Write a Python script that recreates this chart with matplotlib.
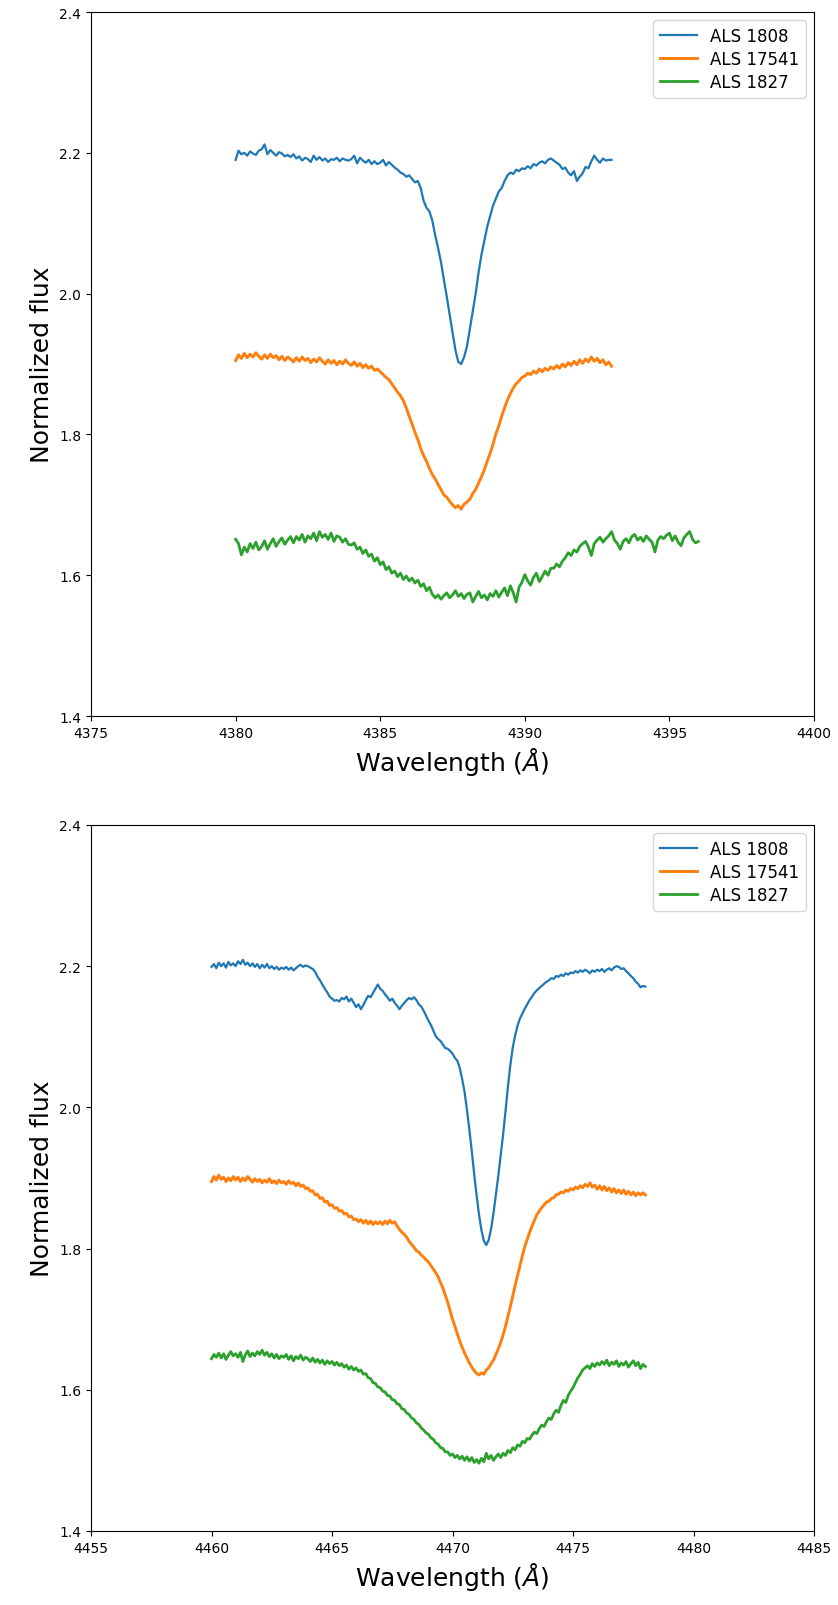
import numpy as np
import matplotlib
matplotlib.use('Agg')
import matplotlib.pyplot as plt

names = ['ALS 1808', 'ALS 17541', 'ALS 1827']

# --- first window, 4380-4396 A (0.1 A sampling, one row per Angstrom) ---
top_blue = [
    2.190, 2.203, 2.198, 2.200, 2.196, 2.202, 2.199, 2.197, 2.203, 2.205,
    2.212, 2.198, 2.204, 2.200, 2.196, 2.201, 2.199, 2.195, 2.197, 2.194,
    2.198, 2.192, 2.195, 2.189, 2.193, 2.191, 2.187, 2.196, 2.190, 2.194,
    2.189, 2.192, 2.187, 2.191, 2.190, 2.193, 2.188, 2.192, 2.190, 2.189,
    2.191, 2.196, 2.185, 2.193, 2.189, 2.186, 2.190, 2.184, 2.188, 2.184,
    2.186, 2.190, 2.182, 2.187, 2.183, 2.179, 2.176, 2.172, 2.170, 2.166,
    2.168, 2.163, 2.158, 2.160, 2.150, 2.132, 2.122, 2.117, 2.104, 2.083,
    2.065, 2.045, 2.020, 1.996, 1.970, 1.945, 1.920, 1.903, 1.900, 1.910,
    1.925, 1.950, 1.975, 2.000, 2.030, 2.055, 2.075, 2.095, 2.110, 2.125,
    2.135, 2.145, 2.150, 2.160, 2.168, 2.172, 2.170, 2.176, 2.174, 2.178,
    2.177, 2.181, 2.178, 2.184, 2.182, 2.186, 2.188, 2.185, 2.190, 2.192,
    2.189, 2.186, 2.183, 2.177, 2.179, 2.172, 2.168, 2.174, 2.160, 2.166,
    2.171, 2.180, 2.178, 2.188, 2.196, 2.190, 2.186, 2.192, 2.189, 2.190,
    2.190]
top_orange = [
    1.905, 1.913, 1.908, 1.915, 1.909, 1.914, 1.910, 1.916, 1.911, 1.907,
    1.913, 1.908, 1.914, 1.909, 1.912, 1.906, 1.911, 1.905, 1.910, 1.907,
    1.903, 1.909, 1.904, 1.910, 1.905, 1.908, 1.902, 1.907, 1.903, 1.909,
    1.904, 1.900, 1.906, 1.901, 1.905, 1.899, 1.904, 1.900, 1.906, 1.901,
    1.898, 1.903, 1.897, 1.901, 1.895, 1.899, 1.894, 1.897, 1.891, 1.893,
    1.889, 1.885, 1.881, 1.878, 1.872, 1.866, 1.860, 1.855, 1.848, 1.838,
    1.826, 1.815, 1.803, 1.793, 1.780, 1.770, 1.762, 1.752, 1.743, 1.737,
    1.729, 1.722, 1.714, 1.711, 1.705, 1.700, 1.696, 1.699, 1.694, 1.701,
    1.704, 1.708, 1.716, 1.722, 1.731, 1.740, 1.750, 1.762, 1.773, 1.786,
    1.801, 1.812, 1.826, 1.838, 1.849, 1.858, 1.866, 1.872, 1.876, 1.881,
    1.883, 1.887, 1.885, 1.890, 1.887, 1.893, 1.889, 1.894, 1.891, 1.896,
    1.893, 1.898, 1.894, 1.900, 1.896, 1.902, 1.898, 1.904, 1.899, 1.906,
    1.901, 1.907, 1.903, 1.910, 1.904, 1.908, 1.902, 1.906, 1.899, 1.903,
    1.897]
top_green = [
    1.651, 1.645, 1.629, 1.640, 1.633, 1.645, 1.638, 1.647, 1.636, 1.641,
    1.649, 1.637, 1.645, 1.652, 1.641, 1.648, 1.653, 1.644, 1.650, 1.655,
    1.646, 1.655, 1.650, 1.658, 1.647, 1.656, 1.652, 1.660, 1.649, 1.662,
    1.654, 1.658, 1.651, 1.660, 1.648, 1.656, 1.654, 1.647, 1.652, 1.644,
    1.643, 1.646, 1.637, 1.640, 1.631, 1.636, 1.627, 1.630, 1.620, 1.625,
    1.615, 1.619, 1.608, 1.612, 1.603, 1.606, 1.598, 1.603, 1.594, 1.599,
    1.592, 1.596, 1.589, 1.593, 1.584, 1.588, 1.578, 1.583, 1.573, 1.568,
    1.572, 1.566, 1.571, 1.575, 1.568, 1.572, 1.578, 1.570, 1.574, 1.567,
    1.573, 1.575, 1.562, 1.570, 1.577, 1.568, 1.572, 1.565, 1.574, 1.570,
    1.578, 1.569, 1.576, 1.582, 1.571, 1.585, 1.575, 1.562, 1.583, 1.590,
    1.601, 1.592, 1.586, 1.597, 1.603, 1.591, 1.598, 1.606, 1.600, 1.610,
    1.610, 1.616, 1.612, 1.620, 1.625, 1.632, 1.628, 1.636, 1.633, 1.641,
    1.645, 1.648, 1.640, 1.628, 1.645, 1.650, 1.654, 1.647, 1.652, 1.656,
    1.662, 1.650, 1.645, 1.637, 1.648, 1.652, 1.646, 1.655, 1.658, 1.650,
    1.654, 1.648, 1.656, 1.651, 1.647, 1.633, 1.650, 1.655, 1.652, 1.657,
    1.660, 1.649, 1.656, 1.647, 1.642, 1.653, 1.658, 1.662, 1.651, 1.646,
    1.648]

# --- second window, 4460-4478 A ---
bot_blue = [
    2.199, 2.203, 2.197, 2.205, 2.200, 2.204, 2.198, 2.206, 2.201, 2.204,
    2.200, 2.207, 2.203, 2.209, 2.202, 2.205, 2.200, 2.204, 2.199, 2.203,
    2.197, 2.202, 2.198, 2.203, 2.197, 2.200, 2.196, 2.199, 2.195, 2.198,
    2.196, 2.199, 2.195, 2.198, 2.194, 2.197, 2.200, 2.202, 2.199, 2.201,
    2.200, 2.198, 2.196, 2.192, 2.185, 2.180, 2.174, 2.168, 2.163, 2.157,
    2.154, 2.151, 2.152, 2.150, 2.155, 2.153, 2.157, 2.150, 2.154, 2.148,
    2.142, 2.146, 2.139, 2.145, 2.152, 2.158, 2.156, 2.162, 2.168, 2.174,
    2.168, 2.165, 2.160, 2.156, 2.151, 2.154, 2.148, 2.144, 2.139, 2.144,
    2.148, 2.152, 2.155, 2.153, 2.156, 2.152, 2.146, 2.143, 2.137, 2.130,
    2.123, 2.117, 2.109, 2.101, 2.097, 2.094, 2.089, 2.084, 2.083, 2.080,
    2.076, 2.070, 2.066, 2.056, 2.040, 2.022, 1.996, 1.968, 1.938, 1.905,
    1.875, 1.848, 1.826, 1.811, 1.805, 1.812, 1.828, 1.850, 1.876, 1.903,
    1.932, 1.962, 1.995, 2.030, 2.060, 2.085, 2.102, 2.116, 2.126, 2.133,
    2.140, 2.146, 2.152, 2.157, 2.162, 2.166, 2.169, 2.172, 2.175, 2.178,
    2.180, 2.183, 2.182, 2.186, 2.185, 2.188, 2.186, 2.190, 2.188, 2.191,
    2.190, 2.193, 2.191, 2.194, 2.192, 2.195, 2.193, 2.190, 2.194, 2.192,
    2.195, 2.193, 2.196, 2.192, 2.195, 2.197, 2.194, 2.198, 2.200, 2.199,
    2.196, 2.197, 2.193, 2.190, 2.186, 2.183, 2.178, 2.175, 2.170, 2.172,
    2.171]
bot_orange = [
    1.895, 1.902, 1.897, 1.904, 1.898, 1.901, 1.895, 1.900, 1.896, 1.902,
    1.897, 1.901, 1.895, 1.900, 1.896, 1.902, 1.898, 1.894, 1.899, 1.895,
    1.898, 1.893, 1.897, 1.894, 1.899, 1.893, 1.896, 1.892, 1.897, 1.893,
    1.895, 1.891, 1.896, 1.892, 1.894, 1.889, 1.893, 1.888, 1.890, 1.885,
    1.886, 1.881, 1.882, 1.876, 1.877, 1.871, 1.872, 1.866, 1.867, 1.861,
    1.862, 1.857, 1.858, 1.853, 1.854, 1.849, 1.850, 1.845, 1.846, 1.841,
    1.842, 1.838, 1.841, 1.836, 1.840, 1.835, 1.839, 1.834, 1.838, 1.835,
    1.838, 1.834, 1.839, 1.835, 1.840, 1.836, 1.838, 1.832, 1.827, 1.823,
    1.820, 1.816, 1.810, 1.806, 1.802, 1.797, 1.795, 1.791, 1.788, 1.784,
    1.781, 1.776, 1.771, 1.766, 1.760, 1.752, 1.744, 1.734, 1.724, 1.712,
    1.700, 1.690, 1.679, 1.669, 1.660, 1.652, 1.645, 1.638, 1.632, 1.627,
    1.623, 1.621, 1.624, 1.622, 1.628, 1.631, 1.637, 1.642, 1.650, 1.658,
    1.667, 1.678, 1.690, 1.704, 1.718, 1.733, 1.748, 1.762, 1.776, 1.790,
    1.803, 1.813, 1.823, 1.832, 1.840, 1.848, 1.853, 1.858, 1.862, 1.866,
    1.867, 1.871, 1.872, 1.876, 1.877, 1.880, 1.879, 1.883, 1.881, 1.885,
    1.883, 1.887, 1.885, 1.889, 1.886, 1.891, 1.888, 1.893, 1.887, 1.890,
    1.884, 1.889, 1.883, 1.888, 1.882, 1.886, 1.880, 1.885, 1.879, 1.883,
    1.878, 1.883, 1.877, 1.881, 1.876, 1.880, 1.875, 1.879, 1.876, 1.879,
    1.876]
bot_green = [
    1.644, 1.650, 1.646, 1.652, 1.645, 1.651, 1.643, 1.649, 1.654, 1.648,
    1.651, 1.646, 1.653, 1.640, 1.649, 1.655, 1.647, 1.652, 1.648, 1.654,
    1.650, 1.656, 1.649, 1.653, 1.647, 1.651, 1.645, 1.650, 1.644, 1.648,
    1.646, 1.650, 1.643, 1.648, 1.641, 1.647, 1.644, 1.649, 1.642, 1.646,
    1.644, 1.640, 1.645, 1.639, 1.643, 1.638, 1.642, 1.636, 1.641, 1.637,
    1.640, 1.635, 1.639, 1.634, 1.637, 1.632, 1.635, 1.629, 1.633, 1.628,
    1.631, 1.626, 1.628, 1.622, 1.623, 1.617, 1.616, 1.610, 1.609, 1.604,
    1.603, 1.598, 1.597, 1.592, 1.591, 1.586, 1.585, 1.580, 1.579, 1.573,
    1.572, 1.567, 1.565, 1.560, 1.558, 1.553, 1.551, 1.546, 1.543, 1.539,
    1.537, 1.532, 1.530, 1.525, 1.523, 1.518, 1.517, 1.512, 1.512, 1.507,
    1.509, 1.504, 1.507, 1.502, 1.506, 1.500, 1.505, 1.499, 1.504, 1.497,
    1.501, 1.496, 1.503, 1.498, 1.510, 1.502, 1.507, 1.500, 1.505, 1.509,
    1.504, 1.510, 1.507, 1.514, 1.511, 1.518, 1.515, 1.522, 1.520, 1.527,
    1.525, 1.531, 1.530, 1.536, 1.540, 1.538, 1.545, 1.550, 1.548, 1.555,
    1.560, 1.558, 1.566, 1.571, 1.568, 1.578, 1.585, 1.582, 1.592, 1.598,
    1.603, 1.610, 1.617, 1.622, 1.628, 1.631, 1.634, 1.630, 1.637, 1.633,
    1.638, 1.635, 1.640, 1.636, 1.642, 1.634, 1.639, 1.636, 1.641, 1.633,
    1.638, 1.635, 1.640, 1.632, 1.637, 1.641, 1.634, 1.639, 1.630, 1.636,
    1.633]

# wavelength ranges of each spectrum (start, end)
top_ranges = [(4380.0, 4393.0), (4380.0, 4393.0), (4380.0, 4396.0)]
bot_ranges = [(4460.0, 4478.0), (4460.0, 4478.0), (4460.0, 4478.0)]
top_xlim = (4375, 4400)
bot_xlim = (4455, 4485)
widths = [1.6, 2.1, 2.0]   # the noisier, denser spectra look thicker


def plot_window(ax, spectra, ranges, xlim):
    for flux, (w0, w1), name, lw in zip(spectra, ranges, names, widths):
        wl = np.linspace(w0, w1, len(flux))
        ax.plot(wl, flux, label=name, lw=lw)
    ax.set_xlim(xlim)
    ax.set_ylim(1.4, 2.4)
    ax.set_yticks(np.arange(1.4, 2.41, 0.2))
    ax.set_xlabel(r'Wavelength ($\AA$)', fontsize=18)
    ax.set_ylabel('Normalized flux', fontsize=18)
    ax.legend(loc='upper right', fontsize=12, labelspacing=0.3,
              handlelength=2.2)


fig = plt.figure(figsize=(8.38, 16.06), dpi=100)
ax1 = fig.add_axes([0.1086, 0.5535, 0.8628, 0.4384])
ax2 = fig.add_axes([0.1086, 0.0461, 0.8628, 0.4396])

plot_window(ax1, [top_blue, top_orange, top_green], top_ranges, top_xlim)
plot_window(ax2, [bot_blue, bot_orange, bot_green], bot_ranges, bot_xlim)

plt.savefig('out.png', dpi=100)
plt.close(fig)
